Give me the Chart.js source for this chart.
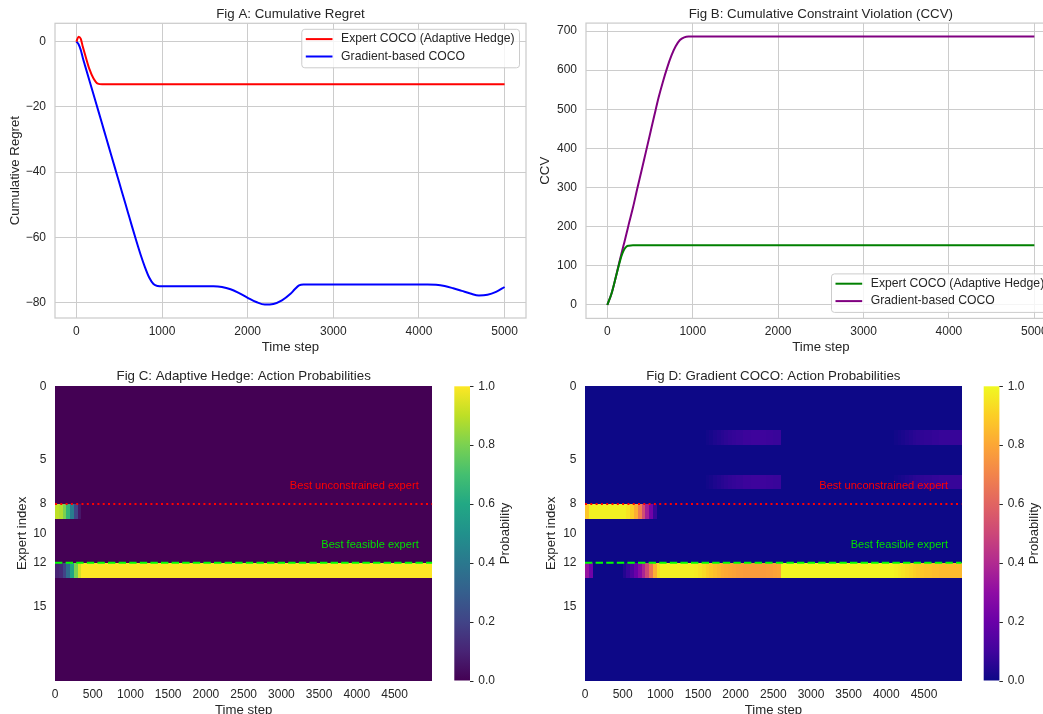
<!DOCTYPE html>
<html lang="en">

<head>
  <meta charset="UTF-8">
  <title>COCO experiments - regret, CCV and action probabilities</title>
  <script src="https://cdn.jsdelivr.net/npm/chart.js@4.4.1/dist/chart.umd.min.js"></script>
  <style>
    html, body { margin: 0; padding: 0; background: #fff; width: 1043px; height: 714px; overflow: hidden; }
    canvas { position: absolute; }
  </style>
</head>

<body>
  <canvas id="figA" width="530" height="360" style="left:0;top:0"></canvas>
  <canvas id="figB" width="550" height="360" style="left:520px;top:0"></canvas>
  <canvas id="figC" width="530" height="370" style="left:0;top:360px"></canvas>
  <canvas id="figD" width="530" height="370" style="left:520px;top:360px"></canvas>

  <script>
    // ---- data ----
    const timeSteps = 5000;
    const nExperts = 20;
    const bestUnconstrained = 8;   // expert index, red dotted line
    const bestFeasible = 12;       // expert index, green dashed line

    // Fig A: cumulative regret
    const stepsA = [0, 25, 50, 75, 100, 150, 200, 250, 300, 350, 400, 450, 500, 550, 600, 650, 700, 750, 800, 850, 900, 950, 1000,
      1200, 1400, 1600, 1700, 1800, 1900, 2000, 2100, 2200, 2300, 2400, 2500, 2550, 2600, 2650, 2700, 3000, 3500, 4000,
      4100, 4200, 4300, 4400, 4500, 4600, 4700, 4800, 4900, 5000];
    const regretExpert = [0, 1.5, 0.9, -1.6, -3.9, -8.3, -11.3, -12.9, -13.1, -13.1, -13.1, -13.1, -13.1, -13.1, -13.1, -13.1, -13.1, -13.1, -13.1, -13.1, -13.1, -13.1, -13.1,
      -13.1, -13.1, -13.1, -13.1, -13.1, -13.1, -13.1, -13.1, -13.1, -13.1, -13.1, -13.1, -13.1, -13.1, -13.1, -13.1, -13.1, -13.1, -13.1,
      -13.1, -13.1, -13.1, -13.1, -13.1, -13.1, -13.1, -13.1, -13.1, -13.1];
    const regretGradient = [0, -0.8, -2.5, -5, -7.3, -11.8, -16.2, -20.7, -25.2, -29.7, -34.2, -38.7, -43.2, -47.7, -52.2, -56.7, -61.1, -65.3, -69.1, -72.3, -74.3, -74.9, -75.0,
      -75.0, -75.0, -75.0, -75.2, -75.9, -77.1, -78.5, -79.8, -80.6, -80.4, -79.3, -77.3, -75.9, -74.7, -74.4, -74.4, -74.4, -74.4, -74.4,
      -74.4, -74.5, -74.9, -75.6, -76.4, -77.2, -77.8, -77.6, -76.7, -75.2];

    // Fig B: cumulative constraint violation
    const stepsB = [0, 50, 100, 150, 175, 200, 225, 250, 300, 350, 400, 450, 500, 550, 600, 650, 700, 750, 800, 850, 900, 950, 1000,
      2000, 3000, 4000, 5000];
    const ccvExpert = [0, 30, 72, 114, 131, 143, 149.5, 151.5, 152.5, 152.5, 152.5, 152.5, 152.5, 152.5, 152.5, 152.5, 152.5, 152.5, 152.5, 152.5, 152.5, 152.5, 152.5,
      152.5, 152.5, 152.5, 152.5];
    const ccvGradient = [0, 30, 72, 118, 140, 161, 183, 206, 249, 297, 343, 390, 437, 484, 530, 570, 606, 637, 661, 677, 684, 686, 686,
      686, 686, 686, 686];

    const ticksA = [-80, -60, -40, -20, 0];
    const ticksB = [0, 100, 200, 300, 400, 500, 600, 700];
    const ticksTime = [0, 1000, 2000, 3000, 4000, 5000];
    const ticksHeatTime = [0, 500, 1000, 1500, 2000, 2500, 3000, 3500, 4000, 4500];
    const ticksExpert = [0, 5, 8, 10, 12, 15];
    const ticksProb = [0, 0.2, 0.4, 0.6, 0.8, 1.0];

    // heatmap rows: [start step, probability] runs, a run lasts until the next start
    const hedgeRow8 = [[0, 0.9], [50, 0.88], [100, 0.8], [150, 0.65], [200, 0.42], [250, 0.2], [300, 0.06], [350, 0]];
    const hedgeRow12 = [[0, 0.1], [50, 0.12], [100, 0.2], [150, 0.35], [200, 0.58], [250, 0.8], [300, 0.94], [350, 1]];

    const gradRow3 = [[0, 0], [1600, 0.01], [1650, 0.02], [1700, 0.03], [1750, 0.04], [1800, 0.05], [1850, 0.06], [1900, 0.07],
      [1950, 0.075], [2000, 0.08], [2100, 0.09], [2200, 0.095], [2300, 0.095], [2400, 0.09], [2500, 0.085], [2600, 0],
      [4100, 0.01], [4150, 0.018], [4200, 0.025], [4250, 0.035], [4300, 0.045], [4350, 0.053], [4400, 0.06], [4450, 0.065],
      [4500, 0.07], [4600, 0.075], [4700, 0.08]];
    const gradRow6 = [[0, 0], [1600, 0.01], [1650, 0.02], [1700, 0.03], [1750, 0.04], [1800, 0.05], [1850, 0.06], [1900, 0.07],
      [1950, 0.075], [2000, 0.08], [2100, 0.09], [2200, 0.095], [2300, 0.095], [2400, 0.09], [2500, 0.085], [2600, 0],
      [4100, 0.01], [4150, 0.018], [4200, 0.025], [4250, 0.035], [4300, 0.045], [4350, 0.053], [4400, 0.06], [4450, 0.065],
      [4500, 0.07], [4600, 0.075], [4700, 0.08]];
    const gradRow8 = [[0, 0.88], [50, 0.98], [550, 0.95], [600, 0.9], [650, 0.82], [700, 0.68], [750, 0.52], [800, 0.36],
      [850, 0.22], [900, 0.08], [950, 0]];
    const gradRow12 = [[0, 0.32], [50, 0.22], [100, 0], [500, 0.04], [550, 0.08], [600, 0.13], [650, 0.2], [700, 0.28],
      [750, 0.38], [800, 0.5], [850, 0.65], [900, 0.82], [950, 0.93], [1000, 0.98], [1450, 0.97], [1500, 0.95], [1550, 0.93],
      [1600, 0.9], [1650, 0.88], [1700, 0.86], [1750, 0.84], [1800, 0.82], [1850, 0.81], [1900, 0.8], [1950, 0.79],
      [2000, 0.78], [2050, 0.775], [2100, 0.77], [2400, 0.775], [2450, 0.78], [2500, 0.79], [2550, 0.8], [2600, 0.99],
      [4100, 0.98], [4150, 0.965], [4200, 0.95], [4250, 0.935], [4300, 0.92], [4350, 0.905], [4400, 0.89], [4450, 0.88],
      [4500, 0.87], [4600, 0.86], [4700, 0.85]];

    const hedgeRows = new Map([[8, hedgeRow8], [12, hedgeRow12]]);
    const gradRows = new Map([[3, gradRow3], [6, gradRow6], [8, gradRow8], [12, gradRow12]]);

    // ---- styling ----
    const FONT = "'Liberation Sans', Arial, sans-serif";
    const INK = '#262626';
    const GRID = '#cccccc';
    Chart.defaults.font.family = FONT;
    Chart.defaults.font.size = 12;
    Chart.defaults.color = INK;

    const viridis = ['#440154', '#482475', '#414487', '#355f8d', '#2a788e', '#21918c', '#22a884', '#44bf70', '#7ad151', '#bddf26', '#fde725'];
    const plasma = ['#0d0887', '#41049d', '#6a00a8', '#8f0da4', '#b12a90', '#cc4778', '#e16462', '#f2844b', '#fca636', '#fcce25', '#f0f921'];

    function colormap(stops) {
      const rgb = stops.map(h => [1, 3, 5].map(i => parseInt(h.slice(i, i + 2), 16)));
      return p => {
        const s = Math.min(Math.max(p, 0), 1) * (rgb.length - 1);
        const i = Math.min(Math.floor(s), rgb.length - 2), f = s - i;
        const c = rgb[i].map((v, k) => Math.round(v + (rgb[i + 1][k] - v) * f));
        return `rgb(${c.join(',')})`;
      };
    }

    const plain = v => String(v).replace('-', '\u2212');   // no thousands separator, real minus sign
    const setTicks = list => axis => { axis.ticks = list.map(v => ({ value: v })); };

    // title centred over the plot area
    function figTitle(text, y) {
      return {
        id: 'figTitle',
        afterDraw(chart) {
          const { ctx, chartArea: a } = chart;
          ctx.save();
          ctx.font = `13.3px ${FONT}`;
          ctx.fillStyle = INK;
          ctx.textAlign = 'center';
          ctx.textBaseline = 'middle';
          ctx.fillText(text, (a.left + a.right) / 2, y);
          ctx.restore();
        }
      };
    }

    // light frame round the plot (seaborn whitegrid spines)
    const frame = {
      id: 'frame',
      beforeDatasetsDraw(chart) {
        const { ctx, chartArea: a } = chart;
        ctx.save();
        ctx.strokeStyle = GRID;
        ctx.lineWidth = 1.25;
        ctx.strokeRect(a.left, a.top, a.right - a.left, a.bottom - a.top);
        ctx.restore();
      }
    };

    // matplotlib-like legend box inside the plot
    function boxLegend(corner) {
      return {
        id: 'boxLegend',
        afterDatasetsDraw(chart) {
          const { ctx, chartArea: a } = chart;
          const sets = chart.data.datasets;
          ctx.save();
          ctx.font = `12.2px ${FONT}`;
          const tw = Math.max(...sets.map(d => ctx.measureText(d.label).width));
          const w = 39.3 + tw + 5, h = 38.5;
          const x = a.right - 6.5 - w;
          const y = corner === 'top' ? a.top + 6 : a.bottom - 6 - h;
          ctx.beginPath();
          ctx.roundRect(x, y, w, h, 3);
          ctx.fillStyle = 'rgba(255,255,255,0.8)';
          ctx.fill();
          ctx.strokeStyle = GRID;
          ctx.lineWidth = 1;
          ctx.stroke();
          sets.forEach((d, i) => {
            const cy = y + 9.8 + i * 17.4;
            ctx.beginPath();
            ctx.moveTo(x + 4, cy);
            ctx.lineTo(x + 30.7, cy);
            ctx.strokeStyle = d.borderColor;
            ctx.lineWidth = 2;
            ctx.stroke();
            ctx.fillStyle = INK;
            ctx.textAlign = 'left';
            ctx.textBaseline = 'middle';
            ctx.fillText(d.label, x + 39.3, cy);
          });
          ctx.restore();
        }
      };
    }

    function lineSet(label, xs, ys, color) {
      return {
        label: label,
        data: xs.map((t, i) => ({ x: t, y: ys[i] })),
        borderColor: color,
        borderWidth: 2,
        pointRadius: 0,
        cubicInterpolationMode: 'monotone',
        fill: false
      };
    }

    function lineOptions(o) {
      return {
        responsive: false,
        animation: false,
        events: [],
        layout: { padding: { top: o.top, right: o.right, left: 0, bottom: 0 } },
        plugins: { legend: { display: false }, tooltip: { enabled: false } },
        scales: {
          x: {
            type: 'linear', min: -250, max: 5250,
            afterBuildTicks: setTicks(ticksTime),
            afterFit: s => { s.height = o.xHeight; },
            grid: { color: GRID, lineWidth: 1, drawTicks: false },
            border: { display: false },
            ticks: { padding: 6, maxRotation: 0, autoSkip: false, callback: plain },
            title: { display: true, text: 'Time step', font: { size: 13.2 }, padding: { top: 0, bottom: 4.8 } }
          },
          y: {
            type: 'linear', min: o.yMin, max: o.yMax,
            afterBuildTicks: setTicks(o.yTicks),
            afterFit: s => { s.width = o.yWidth; },
            grid: { color: GRID, lineWidth: 1, drawTicks: false },
            border: { display: false },
            ticks: { padding: 9, callback: plain },
            title: { display: true, text: o.yLabel, font: { size: 13.2 }, padding: { top: o.yTitlePad, bottom: 0 } }
          }
        }
      };
    }

    // Fig A
    new Chart(document.getElementById('figA'), {
      type: 'line',
      data: {
        datasets: [
          lineSet('Expert COCO (Adaptive Hedge)', stepsA, regretExpert, '#ff0000'),
          lineSet('Gradient-based COCO', stepsA, regretGradient, '#0000ff')
        ]
      },
      options: lineOptions({ top: 23.3, right: 4, xHeight: 42, yWidth: 55, yMin: -84.7, yMax: 5.6, yTicks: ticksA, yLabel: 'Cumulative Regret', yTitlePad: 7 }),
      plugins: [frame, figTitle('Fig A: Cumulative Regret', 14.3), boxLegend('top')]
    });

    // Fig B
    new Chart(document.getElementById('figB'), {
      type: 'line',
      data: {
        datasets: [
          lineSet('Expert COCO (Adaptive Hedge)', stepsB, ccvExpert, '#008000'),
          lineSet('Gradient-based COCO', stepsB, ccvGradient, '#800080')
        ]
      },
      options: lineOptions({ top: 23.1, right: 14.3, xHeight: 41.6, yWidth: 66, yMin: -34.3, yMax: 720.3, yTicks: ticksB, yLabel: 'CCV', yTitlePad: 17.1 }),
      plugins: [frame, figTitle('Fig B: Cumulative Constraint Violation (CCV)', 14.3), boxLegend('bottom')]
    });

    // heatmap cells, drawn through the x / y scales
    function heatCells(rows, cmap) {
      return {
        id: 'heatCells',
        beforeDatasetsDraw(chart) {
          const { ctx, scales: { x, y } } = chart;
          ctx.save();
          for (let r = 0; r < nExperts; r++) {
            const runs = rows.get(r) || [[0, 0]];
            runs.forEach(([t0, p], i) => {
              const t1 = i + 1 < runs.length ? runs[i + 1][0] : timeSteps;
              const x0 = Math.round(x.getPixelForValue(t0)), x1 = Math.round(x.getPixelForValue(t1));
              const y0 = Math.round(y.getPixelForValue(r)), y1 = Math.round(y.getPixelForValue(r + 1));
              ctx.fillStyle = cmap(p);
              ctx.fillRect(x0, y0, x1 - x0, y1 - y0);
            });
          }
          ctx.restore();
        }
      };
    }

    // colour bar next to the heatmap, placed with the cb scale
    function colorBar(stops) {
      return {
        id: 'colorBar',
        afterDraw(chart) {
          const { ctx, chartArea: a } = chart;
          const cb = chart.scales.cb;
          const x0 = a.right + 22, w = 15.7;
          const yTop = cb.getPixelForValue(1), yBot = cb.getPixelForValue(0);
          ctx.save();
          const g = ctx.createLinearGradient(0, yBot, 0, yTop);
          stops.forEach((c, i) => g.addColorStop(i / (stops.length - 1), c));
          ctx.fillStyle = g;
          ctx.fillRect(x0, yTop, w, yBot - yTop);
          ctx.strokeStyle = INK;
          ctx.lineWidth = 1;
          ticksProb.forEach(v => {
            const py = Math.round(cb.getPixelForValue(v)) + 0.5;
            ctx.beginPath();
            ctx.moveTo(x0 + w, py);
            ctx.lineTo(x0 + w + 3.5, py);
            ctx.stroke();
          });
          ctx.translate(a.right + 73, (yTop + yBot) / 2);
          ctx.rotate(-Math.PI / 2);
          ctx.font = `13.2px ${FONT}`;
          ctx.fillStyle = INK;
          ctx.textAlign = 'center';
          ctx.textBaseline = 'middle';
          ctx.fillText('Probability', 0, 0);
          ctx.restore();
        }
      };
    }

    // text labels for the two reference lines
    const refLabels = {
      id: 'refLabels',
      afterDatasetsDraw(chart) {
        const { ctx, scales: { x, y } } = chart;
        ctx.save();
        ctx.font = `11.1px ${FONT}`;
        ctx.textAlign = 'right';
        ctx.textBaseline = 'middle';
        ctx.fillStyle = '#ff0000';
        ctx.fillText('Best unconstrained expert', x.getPixelForValue(4820), y.getPixelForValue(bestUnconstrained - 1.2));
        ctx.fillStyle = '#00e000';
        ctx.fillText('Best feasible expert', x.getPixelForValue(4820), y.getPixelForValue(bestFeasible - 1.2));
        ctx.restore();
      }
    };

    function heatChart(id, title, rows, stops, o) {
      return new Chart(document.getElementById(id), {
        type: 'line',
        data: {
          datasets: [
            { label: 'Best unconstrained expert', data: [{ x: 0, y: bestUnconstrained }, { x: timeSteps, y: bestUnconstrained }],
              borderColor: '#ff0000', borderWidth: 2, borderDash: [2, 3.3], pointRadius: 0 },
            { label: 'Best feasible expert', data: [{ x: 0, y: bestFeasible }, { x: timeSteps, y: bestFeasible }],
              borderColor: '#00ff00', borderWidth: 2, borderDash: [7.4, 3.2], pointRadius: 0 }
          ]
        },
        options: {
          responsive: false,
          animation: false,
          events: [],
          layout: { padding: { top: 26.3, left: 0, right: 0, bottom: 0 } },
          plugins: { legend: { display: false }, tooltip: { enabled: false } },
          scales: {
            x: {
              type: 'linear', min: 0, max: timeSteps,
              afterBuildTicks: setTicks(ticksHeatTime),
              afterFit: s => { s.height = 49.5; },
              grid: { display: false, drawTicks: false },
              border: { display: false },
              ticks: { padding: 6.5, maxRotation: 0, autoSkip: false, callback: plain },
              title: { display: true, text: 'Time step', font: { size: 13.2 }, padding: { top: 0, bottom: 12.1 } }
            },
            y: {
              type: 'linear', min: 0, max: nExperts, reverse: true,
              afterBuildTicks: setTicks(ticksExpert),
              afterFit: s => { s.width = o.yWidth; },
              grid: { display: false, drawTicks: false },
              border: { display: false },
              ticks: { padding: 8.5, callback: plain },
              title: { display: true, text: 'Expert index', font: { size: 13.2 }, padding: { top: o.yTitlePad, bottom: 0 } }
            },
            cb: {
              type: 'linear', position: 'right', min: 0, max: 1,
              afterBuildTicks: setTicks(ticksProb),
              afterFit: s => { s.width = o.cbWidth; },
              // tick length (not drawn) pushes the labels past the colour bar
              grid: { display: false, drawTicks: true, tickLength: 42 },
              border: { display: false },
              ticks: { padding: 4, callback: v => v.toFixed(1) }
            }
          }
        },
        plugins: [heatCells(rows, colormap(stops)), refLabels, colorBar(stops), figTitle(title, 16.5)]
      });
    }

    heatChart('figC', 'Fig C: Adaptive Hedge: Action Probabilities', hedgeRows, viridis, { yWidth: 55, cbWidth: 97.7, yTitlePad: 14.1 });
    heatChart('figD', 'Fig D: Gradient COCO: Action Probabilities', gradRows, plasma, { yWidth: 65, cbWidth: 88.3, yTitlePad: 23.8 });
  </script>
</body>

</html>
